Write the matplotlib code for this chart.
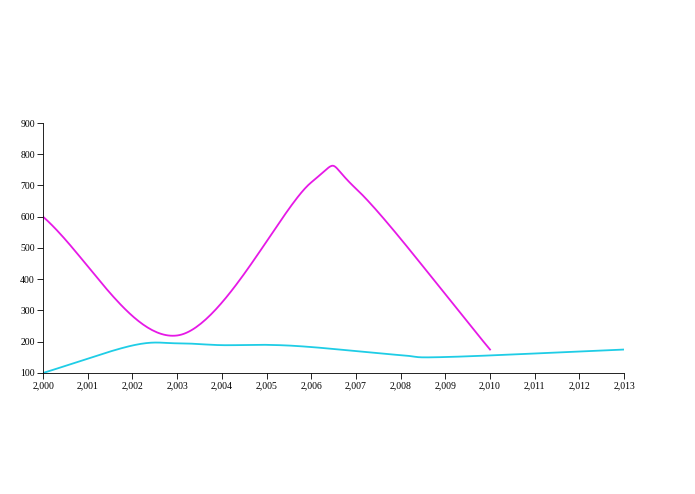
import matplotlib
matplotlib.use("Agg")
import matplotlib.pyplot as plt
import numpy as np
from matplotlib.ticker import FuncFormatter

years_a = [2000, 2003, 2006, 2007, 2010]
vals_a = [600, 220, 710, 690, 175]
years_b = [2000, 2002, 2003, 2004, 2005, 2006, 2008, 2009, 2013]
vals_b = [100, 188, 195, 189, 190, 183, 157, 151, 175]

def catmull(xs, ys, n=60):
    xs = np.asarray(xs, float); ys = np.asarray(ys, float)
    P = np.column_stack([xs, ys])
    P = np.vstack([P[0] - (P[1] - P[0]), P, P[-1] + (P[-1] - P[-2])])
    out = []
    for i in range(1, len(P) - 2):
        p0, p1, p2, p3 = P[i-1], P[i], P[i+1], P[i+2]
        t = np.linspace(0, 1, n)[:, None]
        pts = 0.5 * ((2*p1) + (-p0 + p2)*t + (2*p0 - 5*p1 + 4*p2 - p3)*t**2 + (-p0 + 3*p1 - 3*p2 + p3)*t**3)
        out.append(pts)
    o = np.vstack(out)
    return o[:, 0], o[:, 1]

fig = plt.figure(figsize=(6.95, 4.94), dpi=100)
ax = fig.add_axes([0.062, 0.245, 0.836, 0.506])
x, y = catmull(years_a, vals_a)
ax.plot(x, y, color="#e619e6", lw=1.3)
x, y = catmull(years_b, vals_b)
ax.plot(x, y, color="#1fcde6", lw=1.3)
ax.set_xlim(2000, 2013)
ax.set_ylim(100, 900)
ax.set_xticks(range(2000, 2014))
ax.set_yticks(range(100, 901, 100))
ax.xaxis.set_major_formatter(FuncFormatter(lambda v, p: f"{int(v):,}"))
for lab in ax.get_xticklabels() + ax.get_yticklabels():
    lab.set_fontfamily("Liberation Serif"); lab.set_fontsize(7)
ax.tick_params(length=4, width=0.6, pad=2)
for s in ["top", "right"]:
    ax.spines[s].set_visible(False)
for s in ["left", "bottom"]:
    ax.spines[s].set_linewidth(0.6)
fig.savefig("out.png", dpi=100)
